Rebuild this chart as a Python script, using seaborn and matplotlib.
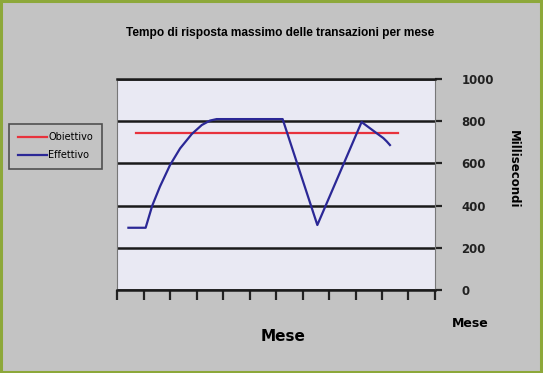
import matplotlib
matplotlib.use("Agg")
import matplotlib.pyplot as plt
import seaborn as sns
import pandas as pd

# data (x in month units, 0..12 across the axis)
eff_x = [0.43, 1.08, 1.33, 1.62, 2.00, 2.38, 2.82, 3.20, 3.51, 3.76, 6.25, 7.56, 9.23, 9.80, 10.05, 10.18, 10.30]
eff_y = [295, 295, 400, 490, 592, 671, 739, 782, 803, 810, 810, 308, 796, 743, 720, 704, 687]
obj_x = [0.72, 10.6]
obj_y = [743, 743]
y_ticks = [0, 200, 400, 600, 800, 1000]

df = pd.concat([
    pd.DataFrame({"Mese": obj_x, "ms": obj_y, "Serie": "Obiettivo"}),
    pd.DataFrame({"Mese": eff_x, "ms": eff_y, "Serie": "Effettivo"}),
])

bg = "#c3c3c3"
fig = plt.figure(figsize=(5.43, 3.73), dpi=100, facecolor=bg)
fig.patches.append(plt.Rectangle((0.002, 0.003), 0.995, 0.994, transform=fig.transFigure,
                                 fill=False, edgecolor="#8da83a", linewidth=2.2))
ax = fig.add_axes([0.2155, 0.2225, 0.5856, 0.5657])
ax.set_facecolor("#e9e9f3")

sns.lineplot(data=df, x="Mese", y="ms", hue="Serie", sort=False,
             palette={"Obiettivo": "#e8323c", "Effettivo": "#2b2896"},
             linewidth=1.6, ax=ax, legend=False)

ax.set_xlim(0, 12)
ax.set_ylim(0, 1000)
ax.set_xticks(range(13))
ax.set_xticklabels([])
ax.set_yticks(y_ticks)
ax.yaxis.tick_right()
ax.tick_params(axis="y", length=5, width=1.6, color="#222222", pad=14,
               labelsize=8.5, labelcolor="#222222")
for lbl in ax.get_yticklabels():
    lbl.set_fontweight("bold")
ax.tick_params(axis="x", length=7, width=1.6, color="#222222", direction="out")
ax.grid(axis="y", color="#1a1a1a", linewidth=1.8)
ax.set_axisbelow(True)
for s in ["left", "right"]:
    ax.spines[s].set_color("#777777")
    ax.spines[s].set_linewidth(0.8)
ax.spines["top"].set_color("#1a1a1a")
ax.spines["top"].set_linewidth(1.8)
ax.spines["bottom"].set_color("#1a1a1a")
ax.spines["bottom"].set_linewidth(1.8)
ax.set_xlabel("")
ax.set_ylabel("")

fig.text(0.516, 0.912, "Tempo di risposta massimo delle transazioni per mese",
         ha="center", va="center", fontsize=8.6, fontweight="bold", family="Liberation Sans")
fig.text(0.521, 0.097, "Mese", ha="center", va="center", fontsize=11, fontweight="bold")
fig.text(0.866, 0.134, "Mese", ha="center", va="center", fontsize=9, fontweight="bold")
fig.text(0.945, 0.545, "Millisecondi", ha="center", va="center", rotation=-90,
         fontsize=8.5, fontweight="bold")

handles = [plt.Line2D([], [], color="#e8323c", lw=1.6),
           plt.Line2D([], [], color="#2b2896", lw=1.6)]
leg = fig.legend(handles, ["Obiettivo", "Effettivo"], loc="center",
                 bbox_to_anchor=(0.102, 0.608), fontsize=7, frameon=True,
                 fancybox=False, handlelength=3.0, handletextpad=0.15,
                 borderpad=0.9, labelspacing=0.8, borderaxespad=0)
leg.get_frame().set_facecolor(bg)
leg.get_frame().set_edgecolor("#333333")
leg.get_frame().set_linewidth(1.2)

fig.savefig("out.png", dpi=100, facecolor=bg)
